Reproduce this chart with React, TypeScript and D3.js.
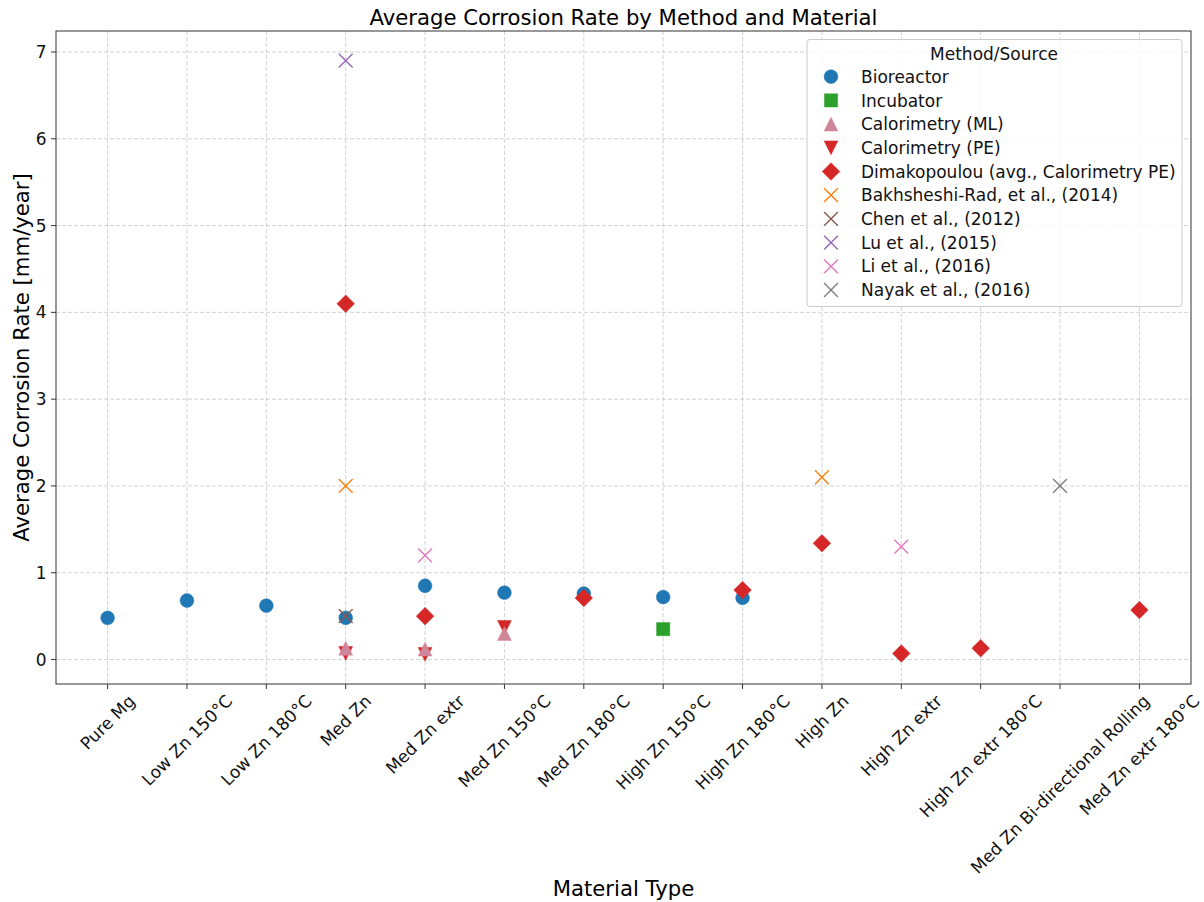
import React, { useRef, useEffect } from "react";
import * as d3 from "d3";

// categories on the x axis
const materials = [
  "Pure Mg",
  "Low Zn 150°C",
  "Low Zn 180°C",
  "Med Zn",
  "Med Zn extr",
  "Med Zn 150°C",
  "Med Zn 180°C",
  "High Zn 150°C",
  "High Zn 180°C",
  "High Zn",
  "High Zn extr",
  "High Zn extr 180°C",
  "Med Zn Bi-directional Rolling",
  "Med Zn extr 180°C",
];

const yTicks = [0, 1, 2, 3, 4, 5, 6, 7];

// [material, average corrosion rate mm/year]
const bioreactor: [string, number][] = [
  ["Pure Mg", 0.48],
  ["Low Zn 150°C", 0.68],
  ["Low Zn 180°C", 0.62],
  ["Med Zn", 0.48],
  ["Med Zn extr", 0.85],
  ["Med Zn 150°C", 0.77],
  ["Med Zn 180°C", 0.76],
  ["High Zn 150°C", 0.72],
  ["High Zn 180°C", 0.71],
];
const incubator: [string, number][] = [["High Zn 150°C", 0.35]];
const calorimetryML: [string, number][] = [
  ["Med Zn", 0.13],
  ["Med Zn extr", 0.12],
  ["Med Zn 150°C", 0.3],
];
const calorimetryPE: [string, number][] = [
  ["Med Zn", 0.07],
  ["Med Zn extr", 0.06],
  ["Med Zn 150°C", 0.37],
];
const dimakopoulou: [string, number][] = [
  ["Med Zn", 4.1],
  ["Med Zn extr", 0.5],
  ["Med Zn 180°C", 0.71],
  ["High Zn 180°C", 0.8],
  ["High Zn", 1.34],
  ["High Zn extr", 0.07],
  ["High Zn extr 180°C", 0.13],
  ["Med Zn extr 180°C", 0.57],
];
const bakhsheshi: [string, number][] = [
  ["Med Zn", 2.0],
  ["High Zn", 2.1],
];
const chen: [string, number][] = [["Med Zn", 0.5]];
const lu: [string, number][] = [["Med Zn", 6.9]];
const li: [string, number][] = [
  ["Med Zn extr", 1.2],
  ["High Zn extr", 1.3],
];
const nayak: [string, number][] = [["Med Zn Bi-directional Rolling", 2.0]];

const series = [
  { label: "Bioreactor", data: bioreactor, shape: "o", color: "#1f77b4" },
  { label: "Incubator", data: incubator, shape: "s", color: "#2ca02c" },
  { label: "Calorimetry (ML)", data: calorimetryML, shape: "^", color: "#d0869a" },
  { label: "Calorimetry (PE)", data: calorimetryPE, shape: "v", color: "#d62728" },
  { label: "Dimakopoulou (avg., Calorimetry PE)", data: dimakopoulou, shape: "D", color: "#d62728" },
  { label: "Bakhsheshi-Rad, et al., (2014)", data: bakhsheshi, shape: "x", color: "#ff7f0e" },
  { label: "Chen et al., (2012)", data: chen, shape: "x", color: "#8c564b" },
  { label: "Lu et al., (2015)", data: lu, shape: "x", color: "#9467bd" },
  { label: "Li et al., (2016)", data: li, shape: "x", color: "#e377c2" },
  { label: "Nayak et al., (2016)", data: nayak, shape: "x", color: "#7f7f7f" },
];

// draw PE under ML like the picture
const drawOrder = [0, 1, 3, 2, 4, 5, 6, 7, 8, 9];

const FONT = "DejaVu Sans, sans-serif";

const markerPath = (shape: string) => {
  const p = d3.path();
  if (shape === "o") {
    p.arc(0, 0, 6.9, 0, 2 * Math.PI);
  } else if (shape === "s") {
    p.rect(-6.6, -6.6, 13.2, 13.2);
  } else if (shape === "^") {
    p.moveTo(0, -6.9);
    p.lineTo(6.9, 6.9);
    p.lineTo(-6.9, 6.9);
    p.closePath();
  } else if (shape === "v") {
    p.moveTo(0, 6.9);
    p.lineTo(6.9, -6.9);
    p.lineTo(-6.9, -6.9);
    p.closePath();
  } else if (shape === "D") {
    p.moveTo(0, -8.8);
    p.lineTo(8.8, 0);
    p.lineTo(0, 8.8);
    p.lineTo(-8.8, 0);
    p.closePath();
  } else {
    p.moveTo(-6.9, -6.9);
    p.lineTo(6.9, 6.9);
    p.moveTo(-6.9, 6.9);
    p.lineTo(6.9, -6.9);
  }
  return p.toString();
};

const drawMarker = (g: any, shape: string, color: string, x: number, y: number) => {
  const m = g.append("path").attr("d", markerPath(shape)).attr("transform", `translate(${x},${y})`);
  if (shape === "x") {
    m.attr("fill", "none").attr("stroke", color).attr("stroke-width", 1.4);
  } else {
    m.attr("fill", color).attr("stroke", color).attr("stroke-width", 0.5);
  }
};

const App = () => {
  const chartRef = useRef<HTMLDivElement>(null);

  useEffect(() => {
    document.body.style.margin = "0";
    createChart();
  }, []);

  const createChart = () => {
    const svgWidth = 1204;
    const svgHeight = 902;
    const left = 56,
      right = 1191,
      top = 31,
      bottom = 684;

    d3.select(chartRef.current).selectAll("svg").remove();

    const svg = d3
      .select(chartRef.current)
      .append("svg")
      .attr("width", svgWidth)
      .attr("height", svgHeight)
      .style("display", "block")
      .style("font-family", FONT);

    svg.append("rect").attr("width", svgWidth).attr("height", svgHeight).attr("fill", "white");

    const n = materials.length;
    const x = d3
      .scaleLinear()
      .domain([-0.05 * (n - 1), (n - 1) * 1.05])
      .range([left, right]);

    const allVals = series.flatMap((s) => s.data.map((d) => d[1]));
    const [ymin, ymax] = d3.extent(allVals) as [number, number];
    const pad = (ymax - ymin) * 0.05;
    const y = d3
      .scaleLinear()
      .domain([ymin - pad, ymax + pad])
      .range([bottom, top]);

    const xi = (m: string) => x(materials.indexOf(m));

    // grid
    const grid = svg.append("g");
    materials.forEach((m, i) => {
      grid
        .append("line")
        .attr("x1", x(i))
        .attr("x2", x(i))
        .attr("y1", top)
        .attr("y2", bottom)
        .attr("stroke", "#b0b0b0")
        .attr("stroke-opacity", 0.7)
        .attr("stroke-width", 0.8)
        .attr("stroke-dasharray", "4,2");
    });
    yTicks.forEach((t) => {
      grid
        .append("line")
        .attr("x1", left)
        .attr("x2", right)
        .attr("y1", y(t))
        .attr("y2", y(t))
        .attr("stroke", "#b0b0b0")
        .attr("stroke-opacity", 0.7)
        .attr("stroke-width", 0.8)
        .attr("stroke-dasharray", "4,2");
    });

    // points
    const pts = svg.append("g");
    drawOrder.forEach((si) => {
      const s = series[si];
      s.data.forEach((d) => drawMarker(pts, s.shape, s.color, xi(d[0]), y(d[1])));
    });

    // frame
    svg
      .append("rect")
      .attr("x", left)
      .attr("y", top)
      .attr("width", right - left)
      .attr("height", bottom - top)
      .attr("fill", "none")
      .attr("stroke", "#333")
      .attr("stroke-width", 1);

    // y axis
    yTicks.forEach((t) => {
      svg
        .append("line")
        .attr("x1", left - 5)
        .attr("x2", left)
        .attr("y1", y(t))
        .attr("y2", y(t))
        .attr("stroke", "#333");
      svg
        .append("text")
        .attr("x", left - 9.5)
        .attr("y", y(t))
        .attr("dy", "0.36em")
        .attr("text-anchor", "end")
        .attr("font-size", 17)
        .attr("fill", "#111")
        .text(t);
    });

    // x axis
    const fs = 17;
    materials.forEach((m, i) => {
      svg
        .append("line")
        .attr("x1", x(i))
        .attr("x2", x(i))
        .attr("y1", bottom)
        .attr("y2", bottom + 5)
        .attr("stroke", "#333");
      const t = svg
        .append("text")
        .attr("text-anchor", "middle")
        .attr("dominant-baseline", "central")
        .attr("font-size", fs)
        .attr("fill", "#111")
        .text(m);
      const w = (t.node() as SVGTextElement).getComputedTextLength();
      const h = fs * 1.16;
      const cy = bottom + 7 + (w + h) / (2 * Math.SQRT2);
      t.attr("transform", `translate(${x(i)},${cy}) rotate(-45)`);
    });

    // labels
    svg
      .append("text")
      .attr("x", (left + right) / 2)
      .attr("y", 25)
      .attr("text-anchor", "middle")
      .attr("font-size", 21.2)
      .attr("fill", "#000")
      .text("Average Corrosion Rate by Method and Material");
    svg
      .append("text")
      .attr("x", (left + right) / 2)
      .attr("y", 896)
      .attr("text-anchor", "middle")
      .attr("font-size", 21.2)
      .attr("fill", "#000")
      .text("Material Type");
    svg
      .append("text")
      .attr("transform", `translate(29,${(top + bottom) / 2}) rotate(-90)`)
      .attr("text-anchor", "middle")
      .attr("font-size", 21.2)
      .attr("fill", "#000")
      .text("Average Corrosion Rate [mm/year]");

    // legend
    const lg = svg.append("g");
    lg.append("rect")
      .attr("x", 807)
      .attr("y", 39.5)
      .attr("width", 375)
      .attr("height", 267)
      .attr("rx", 3)
      .attr("fill", "white")
      .attr("fill-opacity", 0.8)
      .attr("stroke", "#cccccc");
    lg.append("text")
      .attr("x", 994)
      .attr("y", 60)
      .attr("text-anchor", "middle")
      .attr("font-size", 17)
      .attr("fill", "#111")
      .text("Method/Source");
    series.forEach((s, i) => {
      const ly = 76.7 + i * 23.7;
      drawMarker(lg, s.shape, s.color, 831, ly);
      lg.append("text")
        .attr("x", 861)
        .attr("y", ly)
        .attr("dy", "0.36em")
        .attr("font-size", 17)
        .attr("fill", "#111")
        .text(s.label);
    });
  };

  return <div ref={chartRef}></div>;
};

export default App;
